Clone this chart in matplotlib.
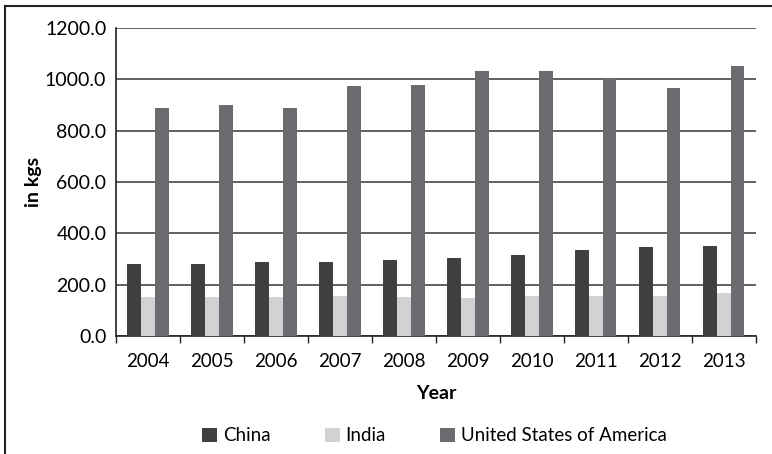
import numpy as np
import matplotlib.pyplot as plt
from matplotlib.lines import Line2D

plt.rcParams['font.family'] = ['Lato', 'DejaVu Sans']

# values (kgs)
years = ['2004', '2005', '2006', '2007', '2008', '2009', '2010', '2011', '2012', '2013']
china = [280, 280, 288, 288, 296, 304, 315, 335, 347, 351]
india = [151, 151, 151, 155, 151, 147, 155, 155, 155, 167]
usa = [887, 902, 887, 976, 980, 1031, 1031, 1004, 968, 1054]

series = [('China', china, '#404040'),
          ('India', india, '#d1d2d4'),
          ('United States of America', usa, '#6b6c70')]

fig = plt.figure(figsize=(7.72, 4.54), dpi=100)
ax = fig.add_axes([0.1503, 0.260, 0.8287, 0.678])

x = np.arange(len(years))
w = 0.215
for i, (name, vals, col) in enumerate(series):
    ax.bar(x + (i - 1) * w, vals, w, color=col, label=name, zorder=3)

ax.set_xlim(-0.5, len(years) - 0.5)
ax.set_ylim(0, 1200)
ax.set_yticks(np.arange(0, 1201, 200))
ax.set_yticklabels([f'{v:.1f}' for v in np.arange(0, 1201, 200)], fontsize=14)
ax.yaxis.grid(True, color='#555555', linewidth=1.3, zorder=0)
ax.set_axisbelow(True)
ax.tick_params(axis='y', length=0, pad=7)
ax.set_yticks([0], minor=True)
ax.tick_params(axis='y', which='minor', length=5, width=1, color='#222222')

ax.set_xticks(x)
ax.set_xticklabels(years, fontsize=13.5)
ax.tick_params(axis='x', length=0, pad=12)
ax.set_xticks(np.arange(-0.5, len(years)), minor=True)
ax.tick_params(axis='x', which='minor', length=5, width=1, color='#222222')

for s in ['top', 'right']:
    ax.spines[s].set_visible(False)
for s in ['left', 'bottom']:
    ax.spines[s].set_color('#222222')
    ax.spines[s].set_linewidth(1.2)

ax.set_xlabel('Year', fontsize=14, fontweight='bold', labelpad=11)
ax.set_ylabel('in kgs', fontsize=14, fontweight='bold')
ax.yaxis.set_label_coords(-0.115, 0.5)

fig.legend(loc='center', bbox_to_anchor=(0.563, 0.04), ncol=3, frameon=False,
           fontsize=13.5, handlelength=0.8, handleheight=0.8, handletextpad=0.3,
           columnspacing=2.9)

# outer frame (left and top edges)
fig.add_artist(Line2D([0.0065, 0.0065], [0, 0.987], color='#222222', linewidth=1.5,
                      transform=fig.transFigure))
fig.add_artist(Line2D([0.0065, 1.0], [0.987, 0.987], color='#222222', linewidth=1.5,
                      transform=fig.transFigure))

fig.savefig('out.png', dpi=100)
